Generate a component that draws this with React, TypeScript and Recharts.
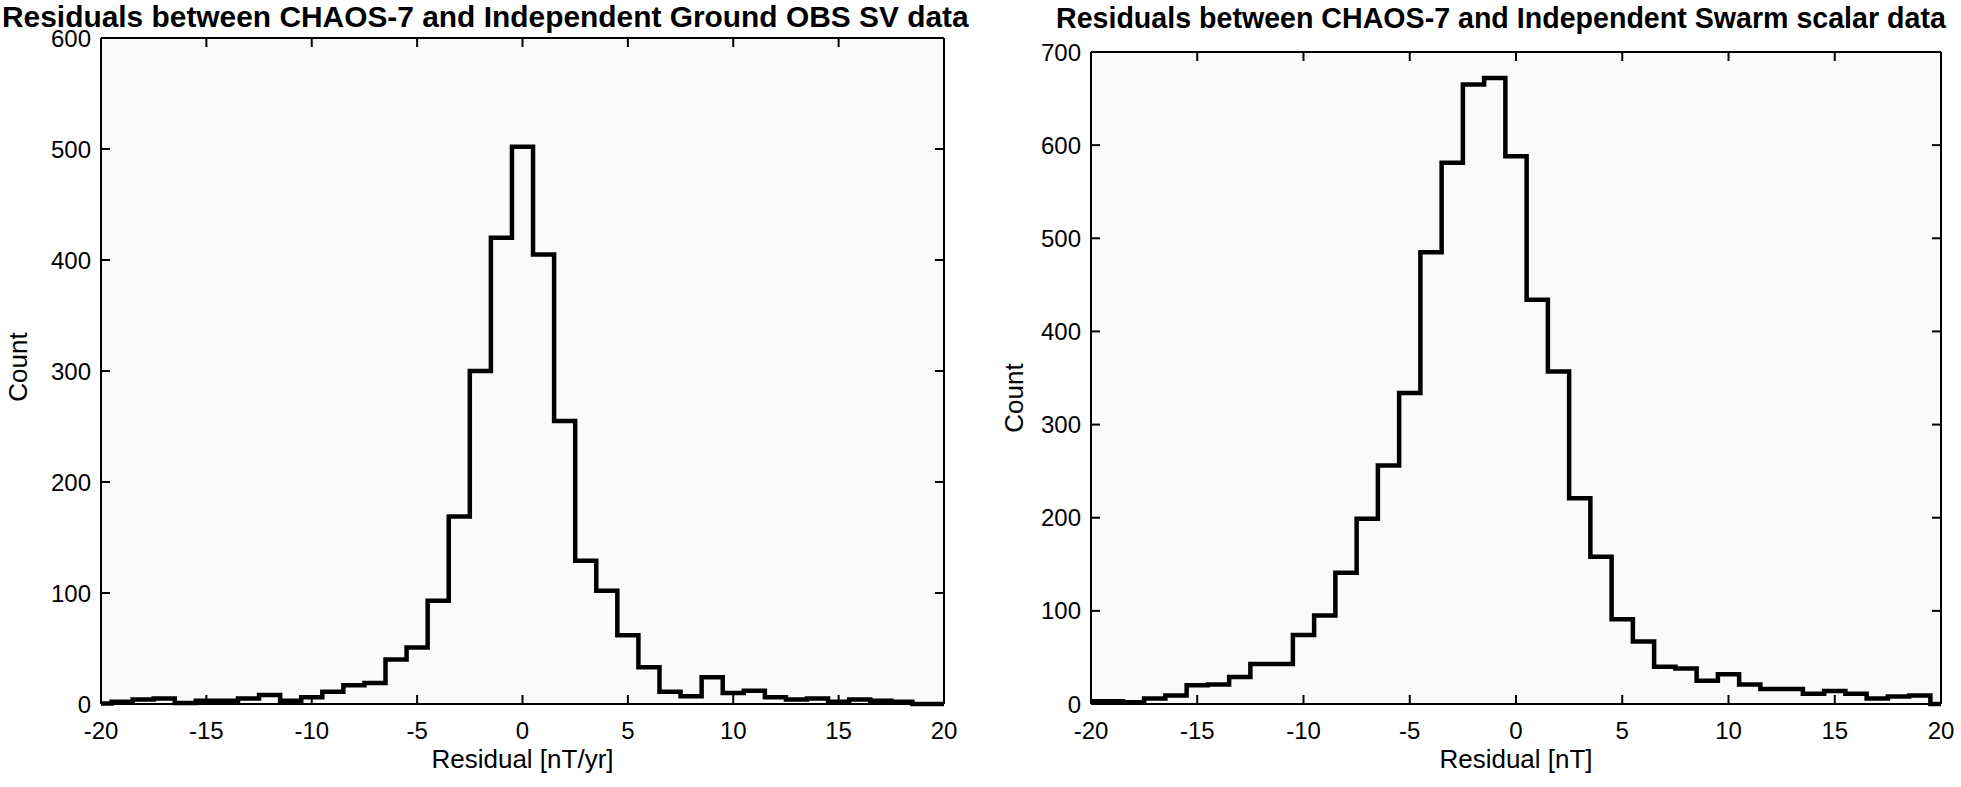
import { LineChart, Line, XAxis, YAxis, CartesianGrid } from "recharts";

// bin centres, width 1, edges on the half units
const BIN_CENTERS = [
  -20, -19, -18, -17, -16, -15, -14, -13, -12, -11, -10, -9, -8, -7, -6, -5, -4, -3, -2, -1,
  0, 1, 2, 3, 4, 5, 6, 7, 8, 9, 10, 11, 12, 13, 14, 15, 16, 17, 18, 19, 20,
];

const GROUND_OBS_COUNTS = [
  0.5, 2, 4, 5, 1, 3, 3, 5, 8, 3, 6, 11, 17, 19, 40, 51, 93, 169, 300, 420,
  502, 405, 255, 129, 102, 62, 33, 11, 7, 24, 10, 12, 6, 4, 5, 2, 4, 3, 2, 0, 0,
];

const SWARM_COUNTS = [
  3, 3, 2, 6, 9, 20, 21, 29, 43, 43, 74, 95, 141, 199, 256, 334, 485, 581, 665, 672,
  588, 434, 357, 221, 158, 91, 67, 40, 38, 25, 32, 21, 16, 16, 11, 14, 11, 6, 8, 9, 0,
];

const X_TICKS = [-20, -15, -10, -5, 0, 5, 10, 15, 20];
const GROUND_Y_TICKS = [0, 100, 200, 300, 400, 500, 600];
const SWARM_Y_TICKS = [0, 100, 200, 300, 400, 500, 600, 700];

const FONT = '"Liberation Sans", Arial, Helvetica, sans-serif';
const TICK_LEN = 9;
const TICK_FONT = 24;

function BottomTick({ x, y, payload }: any) {
  return (
    <g>
      <line x1={x} x2={x} y1={y} y2={y - TICK_LEN} stroke="#000" strokeWidth={2} />
      <text x={x} y={y + 35} textAnchor="middle" fontSize={TICK_FONT} fontFamily={FONT} fill="#000">
        {payload.value}
      </text>
    </g>
  );
}

function TopTick({ x, y }: any) {
  return <line x1={x} x2={x} y1={y} y2={y + TICK_LEN} stroke="#000" strokeWidth={2} />;
}

function LeftTick({ x, y, payload }: any) {
  return (
    <g>
      <line x1={x} x2={x + TICK_LEN} y1={y} y2={y} stroke="#000" strokeWidth={2} />
      <text x={x - 10} y={y} dy="0.36em" textAnchor="end" fontSize={TICK_FONT} fontFamily={FONT} fill="#000">
        {payload.value}
      </text>
    </g>
  );
}

function RightTick({ x, y }: any) {
  return <line x1={x} x2={x - TICK_LEN} y1={y} y2={y} stroke="#000" strokeWidth={2} />;
}

function Panel({ title, titleSize, counts, yTicks, xLabel, left, width, plotLeft, plotTop, plotRight, titleLeft, titleTop, countOffset, countShift }: any) {
  const rows = BIN_CENTERS.map((b, i) => ({ bin: b, count: counts[i] }));
  const yMax = yTicks[yTicks.length - 1];
  const axisLine = { stroke: "#000", strokeWidth: 2 };

  return (
    <div style={{ position: "absolute", left, top: 0, width, height: 787 }}>
      <div
        style={{
          position: "absolute",
          left: titleLeft,
          top: titleTop,
          fontFamily: FONT,
          fontWeight: "bold",
          fontSize: titleSize,
          lineHeight: "22px",
          whiteSpace: "nowrap",
        }}
      >
        {title}
      </div>
      <LineChart
        width={width}
        height={787}
        data={rows}
        margin={{ top: plotTop - 10, left: plotLeft - 90, right: width - plotRight - 10, bottom: 13 }}
      >
        <CartesianGrid horizontal={false} vertical={false} fill="#fafafa" />
        <XAxis
          dataKey="bin"
          type="number"
          domain={[-20, 20]}
          ticks={X_TICKS}
          interval={0}
          height={70}
          axisLine={axisLine}
          tickLine={false}
          tickSize={0}
          tickMargin={0}
          tick={<BottomTick />}
          label={{ value: xLabel, position: "insideBottom", offset: 6, style: { fontSize: 26, fontFamily: FONT, fill: "#000" } }}
        />
        <XAxis
          xAxisId="top"
          orientation="top"
          dataKey="bin"
          type="number"
          domain={[-20, 20]}
          ticks={X_TICKS}
          interval={0}
          height={10}
          axisLine={axisLine}
          tickLine={false}
          tickSize={0}
          tickMargin={0}
          tick={<TopTick />}
        />
        <YAxis
          type="number"
          domain={[0, yMax]}
          ticks={yTicks}
          interval={0}
          width={90}
          axisLine={axisLine}
          tickLine={false}
          tickSize={0}
          tickMargin={0}
          tick={<LeftTick />}
          label={{
            value: "Count",
            angle: -90,
            position: "insideLeft",
            offset: countOffset,
            dy: countShift,
            style: { textAnchor: "middle", fontSize: 26, fontFamily: FONT, fill: "#000" },
          }}
        />
        <YAxis
          yAxisId="right"
          orientation="right"
          type="number"
          domain={[0, yMax]}
          ticks={yTicks}
          interval={0}
          width={10}
          axisLine={axisLine}
          tickLine={false}
          tickSize={0}
          tickMargin={0}
          tick={<RightTick />}
        />
        <Line
          xAxisId="top"
          yAxisId="right"
          type="step"
          dataKey="count"
          stroke="none"
          dot={false}
          activeDot={false}
          isAnimationActive={false}
        />
        <Line
          type="step"
          dataKey="count"
          stroke="#000"
          strokeWidth={4.5}
          strokeLinejoin="miter"
          dot={false}
          activeDot={false}
          isAnimationActive={false}
        />
      </LineChart>
    </div>
  );
}

export default function App() {
  return (
    <div style={{ position: "absolute", left: 0, top: 0, width: 1961, height: 787, background: "#fff", overflow: "hidden" }}>
      <Panel
        title="Residuals between CHAOS-7 and Independent Ground OBS SV data"
        titleSize={29.9}
        counts={GROUND_OBS_COUNTS}
        yTicks={GROUND_Y_TICKS}
        xLabel="Residual [nT/yr]"
        left={0}
        width={980}
        plotLeft={101}
        plotTop={38}
        plotRight={944}
        titleLeft={2}
        titleTop={6}
        countOffset={7}
        countShift={-4}
      />
      <Panel
        title="Residuals between CHAOS-7 and Independent Swarm scalar data"
        titleSize={28.6}
        counts={SWARM_COUNTS}
        yTicks={SWARM_Y_TICKS}
        xLabel="Residual [nT]"
        left={980}
        width={981}
        plotLeft={111}
        plotTop={52}
        plotRight={961}
        titleLeft={76}
        titleTop={7}
        countOffset={13}
        countShift={20}
      />
    </div>
  );
}
